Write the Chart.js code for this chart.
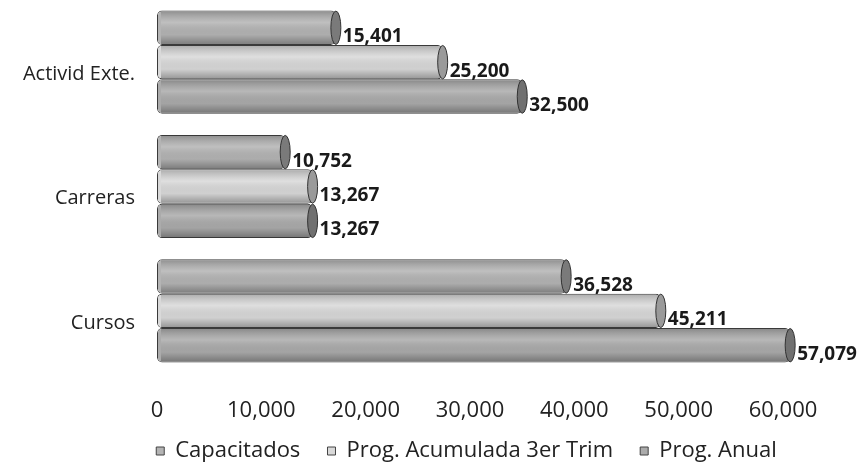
<!DOCTYPE html>
<html>
<head>
<meta charset="utf-8">
<script src="https://cdn.jsdelivr.net/npm/chart.js@4/dist/chart.umd.min.js"></script>
<style>
html,body{margin:0;padding:0;background:#fff;}
#wrap{width:861px;height:465px;position:relative;}
</style>
</head>
<body>
<div id="wrap"><canvas id="c"></canvas></div>
<script>
const categories = ["Activid Exte.", "Carreras", "Cursos"];
const seriesNames = ["Capacitados", "Prog. Acumulada 3er Trim", "Prog. Anual"];
const capacitados = [15401, 10752, 36528];
const progAcumulada = [25200, 13267, 45211];
const progAnual = [32500, 13267, 57079];
const xTicks = [0, 10000, 20000, 30000, 40000, 50000, 60000];

const FONT = "'Open Sans', sans-serif";
const fills = ["#b4b4b4", "#d9d9d9", "#ababab"];
const caps = ["#7a7a7a", "#9a9a9a", "#707070"];

const fmt = v => v.toLocaleString("en-US");

const cylinderPlugin = {
  id: "cyl",
  afterLayout(chart) {
    const lg = chart.legend;
    if (lg) { lg.left += 75; lg.right += 75; lg.top += 5; lg.bottom += 5; }
  },
  afterDatasetsDraw(chart) {
    const ctx = chart.ctx;
    chart.data.datasets.forEach((ds, di) => {
      const meta = chart.getDatasetMeta(di);
      meta.data.forEach((el, i) => {
        const h = el.height;
        const top = el.y - h / 2;
        ctx.save();
        const g = ctx.createLinearGradient(0, top, 0, top + h);
        g.addColorStop(0, "rgba(0,0,0,0.22)");
        g.addColorStop(0.35, "rgba(255,255,255,0.15)");
        g.addColorStop(0.7, "rgba(0,0,0,0.04)");
        g.addColorStop(1, "rgba(0,0,0,0.32)");
        ctx.fillStyle = g;
        ctx.fillRect(el.base + 4, top + 1, el.x - el.base - 4, h - 2);
        ctx.beginPath();
        ctx.ellipse(el.x, el.y, 5, h / 2 - 0.5, 0, 0, Math.PI * 2);
        ctx.fillStyle = caps[di];
        ctx.fill();
        ctx.strokeStyle = "#333";
        ctx.lineWidth = 1;
        ctx.stroke();
        ctx.font = "bold 19px " + FONT;
        ctx.fillStyle = "#1a1a1a";
        ctx.textAlign = "left";
        ctx.textBaseline = "middle";
        ctx.fillText(fmt(ds.data[i]), el.x + 7, el.y + 9);
        ctx.restore();
      });
    });
  }
};

new Chart(document.getElementById("c"), {
  type: "bar",
  data: {
    labels: categories,
    datasets: [
      { label: seriesNames[0], data: capacitados },
      { label: seriesNames[1], data: progAcumulada },
      { label: seriesNames[2], data: progAnual }
    ].map((d, i) => Object.assign(d, {
      xAxisID: "x2",
      base: -1009,
      backgroundColor: fills[i],
      borderColor: "#3a3a3a",
      borderWidth: 1,
      borderSkipped: false,
      borderRadius: 5,
      barPercentage: 1.0,
      categoryPercentage: 0.83,
      clip: false
    }))
  },
  options: {
    indexAxis: "y",
    responsive: true,
    maintainAspectRatio: false,
    animation: false,
    layout: { padding: { left: 0, right: 78, top: 0, bottom: 0 } },
    scales: {
      y: {
        grid: { display: false },
        border: { display: false },
        afterFit: s => { s.width = 157; s.paddingTop = 0; s.paddingBottom = 0; },
        ticks: {
          color: "#222",
          font: { family: FONT, size: 20 },
          padding: 14,
          labelOffset: 12
        }
      },
      x: {
        type: "linear",
        position: "bottom",
        min: 0, max: 60000,
        afterBuildTicks: s => { s.ticks = xTicks.map(v => ({ value: v })); },
        afterFit: s => { s.height = 52; },
        grid: { display: false },
        border: { display: false },
        ticks: {
          color: "#222",
          font: { family: FONT, size: 22 },
          padding: 17,
          maxRotation: 0,
          callback: v => fmt(v)
        }
      },
      x2: {
        type: "linear",
        display: false,
        min: -1009,
        max: 56422
      }
    },
    plugins: {
      legend: {
        position: "bottom",
        maxHeight: 40,
        labels: {
          color: "#222",
          font: { family: FONT, size: 22 },
          boxWidth: 8,
          boxHeight: 8,
          padding: 10,
          generateLabels: chart => {
            const items = Chart.defaults.plugins.legend.labels.generateLabels(chart);
            items.forEach((it, k) => {
              if (k < items.length - 1) it.text = it.text + "   ";
              it.strokeStyle = "#444";
              it.lineWidth = 1;
            });
            return items;
          }
        }
      },
      tooltip: { enabled: false }
    }
  },
  plugins: [cylinderPlugin]
});
</script>
</body>
</html>
